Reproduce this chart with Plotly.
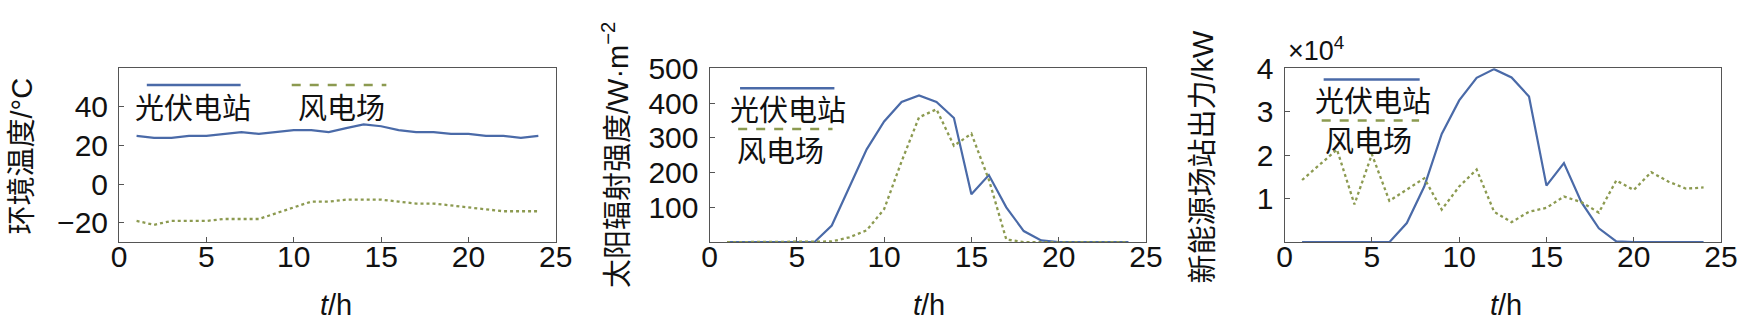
import plotly.graph_objects as go

W, H = 1761, 322

hours = list(range(1, 25))

# Panel 1: ambient temperature (°C)
temp_pv = [25, 24, 24, 25, 25, 26, 27, 26, 27, 28, 28, 27, 29, 31, 30, 28, 27, 27, 26, 26, 25, 25, 24, 25]
temp_wind = [-19, -21, -19, -19, -19, -18, -18, -18, -15, -12, -9, -9, -8, -8, -8, -9, -10, -10, -11, -12, -13, -14, -14, -14]

# Panel 2: solar irradiance (W/m^2)
irr_pv = [0, 0, 0, 0, 0, 0, 48, 155, 267, 347, 403, 422, 403, 357, 138, 193, 100, 32, 5, 0, 0, 0, 0, 0]
irr_wind = [0, 0, 0, 0, 0, 0, 2, 14, 34, 95, 232, 359, 382, 277, 312, 180, 8, 0, 0, 0, 0, 0, 0, 0]

# Panel 3: station output (x10^4 kW)
out_pv = [0, 0, 0, 0, 0, 0, 0.44, 1.28, 2.49, 3.26, 3.78, 3.98, 3.79, 3.35, 1.30, 1.82, 0.92, 0.32, 0.02, 0, 0, 0, 0, 0]
out_wind = [1.43, 1.78, 2.13, 0.87, 2.02, 0.95, 1.20, 1.47, 0.75, 1.28, 1.67, 0.70, 0.46, 0.70, 0.79, 1.05, 0.92, 0.68, 1.42, 1.20, 1.61, 1.39, 1.23, 1.26]

series_names = ["光伏电站", "风电场"]
y_titles = ["环境温度/°C", "太阳辐射强度/W·m<sup>−2</sup>", "新能源场站出力/kW"]
x_ticks = [0, 5, 10, 15, 20, 25]
y1_ticks = [-20, 0, 20, 40]
y2_ticks = [100, 200, 300, 400, 500]
y3_ticks = [1, 2, 3, 4]

BLUE = "#4a6aa8"
GREEN = "#8c9a50"
AXC = "#555555"
TICKFONT = dict(family="Liberation Sans, Arial, sans-serif", size=30, color="#111111")
CJK = "Noto Sans CJK SC"
MIXED = "Liberation Sans, " + CJK


def px(x):
    return x / W


def py(y):
    return 1 - y / H


fig = go.Figure()
data = [(temp_pv, temp_wind), (irr_pv, irr_wind), (out_pv, out_wind)]
for i, (a, b) in enumerate(data):
    xa = "x" if i == 0 else f"x{i+1}"
    ya = "y" if i == 0 else f"y{i+1}"
    fig.add_trace(go.Scatter(x=hours, y=a, mode="lines", name=series_names[0],
                             line=dict(color=BLUE, width=2.2), xaxis=xa, yaxis=ya, showlegend=False))
    fig.add_trace(go.Scatter(x=hours, y=b, mode="lines", name=series_names[1],
                             line=dict(color=GREEN, width=2.3, dash="dot"), xaxis=xa, yaxis=ya, showlegend=False))

x_domains = [[112.7 / W, 555.7 / W], [711.7 / W, 1154.3 / W], [1295 / W, 1737.7 / W]]
y_domain = [1 - 238 / H, 1 - 55 / H]
y_ranges = [[-30, 60], [0, 500], [0, 4]]
y_tickss = [y1_ticks, y2_ticks, y3_ticks]

common = dict(showline=True, mirror=True, linecolor=AXC, linewidth=1.2, ticks="inside",
              ticklen=5, tickcolor=AXC, showgrid=False, zeroline=False, tickfont=TICKFONT)

layout = dict(width=W, height=H, margin=dict(l=0, r=0, t=0, b=0),
              plot_bgcolor="white", paper_bgcolor="white", showlegend=False)
for i in range(3):
    sx = "" if i == 0 else str(i + 1)
    layout["xaxis" + sx] = dict(domain=x_domains[i], range=[0, 25], tickvals=x_ticks,
                                anchor="y" + sx, ticklabelstandoff=-12, **common)
    layout["yaxis" + sx] = dict(domain=y_domain, range=y_ranges[i], tickvals=y_tickss[i],
                                anchor="x" + sx, ticklabelstandoff=4, **common)
fig.update_layout(**layout)

ann = []
shapes = []
# y-axis titles
for (cx, cy), t in zip([(14, 147), (616, 146), (1212, 148)], y_titles):
    ann.append(dict(x=px(cx), y=py(cy), xref="paper", yref="paper", text=t, textangle=-90,
                    showarrow=False, xanchor="center", yanchor="middle",
                    font=dict(family=MIXED, size=29, color="#111111")))
# x-axis titles
for cx in [333, 934, 1520]:
    ann.append(dict(x=px(cx), y=py(304), xref="paper", yref="paper", text="<i>t</i>/h",
                    showarrow=False, xanchor="center", yanchor="middle",
                    font=dict(family="Liberation Sans, Arial", size=29, color="#111111")))
# x10^4 label
ann.append(dict(x=px(1296), y=py(35), xref="paper", yref="paper", text="×10<sup>4</sup>",
                showarrow=False, xanchor="left", yanchor="middle",
                font=dict(family="Liberation Sans, Arial", size=27, color="#111111")))

# legends: (line x0, x1, y, text x, text y)
legends = [
    [(140.8, 236, 72.7, 127.4, 94.5), (287.8, 383.8, 72.7, 292.8, 94.5)],
    [(742.6, 838.3, 76, 731, 96.5), (740.7, 836.4, 119, 738.8, 140)],
    [(1334.6, 1432, 66.7, 1325, 87), (1332.6, 1431.4, 110, 1335.3, 129.5)],
]
for leg in legends:
    for k, (x0, x1, ly, tx, ty) in enumerate(leg):
        shapes.append(dict(type="line", xref="paper", yref="paper", x0=px(x0), x1=px(x1),
                           y0=py(ly), y1=py(ly),
                           line=dict(color=BLUE if k == 0 else GREEN, width=2.5,
                                     dash="solid" if k == 0 else "dash")))
        ann.append(dict(x=px(tx), y=py(ty), xref="paper", yref="paper", text=series_names[k],
                        showarrow=False, xanchor="left", yanchor="middle", borderpad=0,
                        font=dict(family=CJK, size=29, color="#111111")))

fig.update_layout(annotations=ann, shapes=shapes)
fig.write_html("out.html")
